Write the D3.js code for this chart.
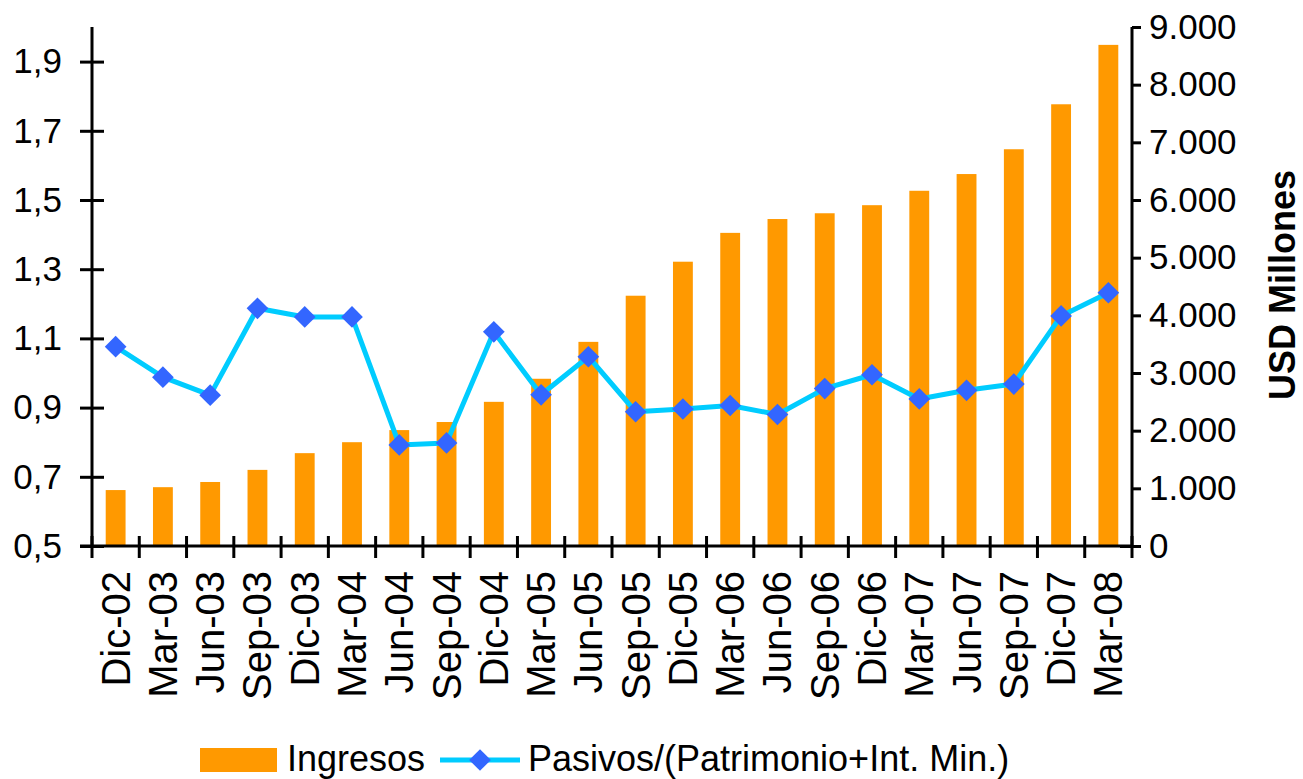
<!DOCTYPE html>
<html>
<head>
  <meta charset="utf-8">
  <title>Ingresos y Pasivos/(Patrimonio+Int. Min.)</title>
  <script src="https://d3js.org/d3.v7.min.js"></script>
  <style>
    body { margin: 0; background: white; }
    text { font-family: "Liberation Sans", Arial, sans-serif; fill: #000; }
  </style>
</head>
<body>
  <div id="chart"></div>
  <script>
    var categories = ["Dic-02", "Mar-03", "Jun-03", "Sep-03", "Dic-03", "Mar-04", "Jun-04", "Sep-04",
      "Dic-04", "Mar-05", "Jun-05", "Sep-05", "Dic-05", "Mar-06", "Jun-06", "Sep-06",
      "Dic-06", "Mar-07", "Jun-07", "Sep-07", "Dic-07", "Mar-08"];
    // USD millones, eje derecho
    var ingresos = [970, 1020, 1110, 1320, 1610, 1800, 2010, 2150, 2500, 2900, 3540, 4340,
      4930, 5430, 5670, 5770, 5910, 6160, 6450, 6880, 7660, 8690];
    // ratio, eje izquierdo
    var pasivos = [1.076, 0.988, 0.936, 1.187, 1.162, 1.162, 0.792, 0.798, 1.119, 0.937, 1.047, 0.888,
      0.896, 0.906, 0.880, 0.955, 0.995, 0.925, 0.950, 0.968, 1.165, 1.232];
    var leftTicks = [0.5, 0.7, 0.9, 1.1, 1.3, 1.5, 1.7, 1.9];
    var rightTicks = [0, 1000, 2000, 3000, 4000, 5000, 6000, 7000, 8000, 9000];

    var width = 1303, height = 779;
    var mLeft = 92, mRight = 1132, mTop = 27, mBottom = 546;
    var tickFont = 35, catFont = 40, legendFont = 36;

    var svg = d3.select("#chart").append("svg")
      .attr("width", width)
      .attr("height", height);

    var x = d3.scaleBand().domain(categories).range([mLeft, mRight]).paddingInner(0.58).paddingOuter(0.29);
    var yL = d3.scaleLinear().domain([0.5, 2.0]).range([mBottom, mTop]);
    var yR = d3.scaleLinear().domain([0, 9000]).range([mBottom, mTop]);

    var fmtL = function (v) { return d3.format(".1f")(v).replace(".", ","); };
    var fmtR = function (v) { return d3.format(",")(v).replace(/,/g, "."); };

    // barras
    svg.append("g").selectAll("rect")
      .data(ingresos)
      .enter().append("rect")
      .attr("x", function (d, i) { return x(categories[i]); })
      .attr("width", x.bandwidth())
      .attr("y", function (d) { return yR(d); })
      .attr("height", function (d) { return mBottom - yR(d); })
      .attr("fill", "#ff9900");

    // eje izquierdo
    var gL = svg.append("g").attr("transform", "translate(" + mLeft + ",0)")
      .call(d3.axisLeft(yL).tickValues(leftTicks).tickSize(12).tickPadding(18).tickFormat(fmtL));
    gL.selectAll(".tick line").attr("x1", 12);
    gL.select(".domain").attr("d", "M0," + mTop + "V" + mBottom);

    // eje derecho
    var gR = svg.append("g").attr("transform", "translate(" + mRight + ",0)")
      .call(d3.axisRight(yR).tickValues(rightTicks).tickSize(9).tickPadding(8).tickFormat(fmtR));
    gR.select(".domain").attr("d", "M0," + mTop + "V" + mBottom);
    gR.selectAll(".tick").filter(function (d) { return d === 0; }).select("line").attr("x1", -12);

    [gL, gR].forEach(function (g) {
      g.selectAll("path.domain, .tick line").attr("stroke", "#000").attr("stroke-width", 3);
      g.selectAll("text").style("font-size", tickFont + "px").attr("font-family", null).attr("fill", "#000");
    });

    // eje x: marcas en los limites de categoria
    var step = x.step();
    var boundaries = d3.range(categories.length + 1).map(function (i) { return mLeft + i * step; });
    var gX = svg.append("g");
    gX.append("line").attr("x1", mLeft - 12).attr("x2", mRight).attr("y1", mBottom).attr("y2", mBottom)
      .attr("stroke", "#000").attr("stroke-width", 3);
    gX.selectAll("line.tk").data(boundaries).enter().append("line").attr("class", "tk")
      .attr("x1", function (d) { return d; }).attr("x2", function (d) { return d; })
      .attr("y1", mBottom - 10).attr("y2", mBottom + 12)
      .attr("stroke", "#000").attr("stroke-width", 3);
    gX.selectAll("text").data(categories).enter().append("text")
      .attr("transform", function (d) {
        return "translate(" + (x(d) + x.bandwidth() / 2 + 14) + "," + (mBottom + 25) + ") rotate(-90)";
      })
      .attr("text-anchor", "end")
      .style("font-size", catFont + "px")
      .text(function (d) { return d; });

    svg.append("text")
      .attr("transform", "translate(1295,285) rotate(-90)")
      .attr("text-anchor", "middle")
      .style("font-size", "36px").style("font-weight", "bold")
      .text("USD Millones");

    // linea
    var line = d3.line()
      .x(function (d, i) { return x(categories[i]) + x.bandwidth() / 2; })
      .y(function (d) { return yL(d); });
    svg.append("path").datum(pasivos)
      .attr("d", line).attr("fill", "none")
      .attr("stroke", "#00ccff").attr("stroke-width", 5).attr("stroke-linejoin", "round");
    var diamond = d3.symbol().type(d3.symbolDiamond2).size(300);
    svg.append("g").selectAll("path")
      .data(pasivos).enter().append("path")
      .attr("d", diamond)
      .attr("transform", function (d, i) {
        return "translate(" + (x(categories[i]) + x.bandwidth() / 2) + "," + yL(d) + ")";
      })
      .attr("fill", "#3366ff");

    // leyenda
    var lg = svg.append("g");
    lg.append("rect").attr("x", 200).attr("y", 748).attr("width", 77).attr("height", 24).attr("fill", "#ff9900");
    lg.append("text").attr("x", 287).attr("y", 771).style("font-size", legendFont + "px").text("Ingresos");
    lg.append("line").attr("x1", 440).attr("x2", 520).attr("y1", 760).attr("y2", 760)
      .attr("stroke", "#00ccff").attr("stroke-width", 5);
    lg.append("path").attr("d", diamond).attr("transform", "translate(480,760)").attr("fill", "#3366ff");
    lg.append("text").attr("x", 528).attr("y", 771).style("font-size", legendFont + "px")
      .text("Pasivos/(Patrimonio+Int. Min.)");
  </script>
</body>
</html>
